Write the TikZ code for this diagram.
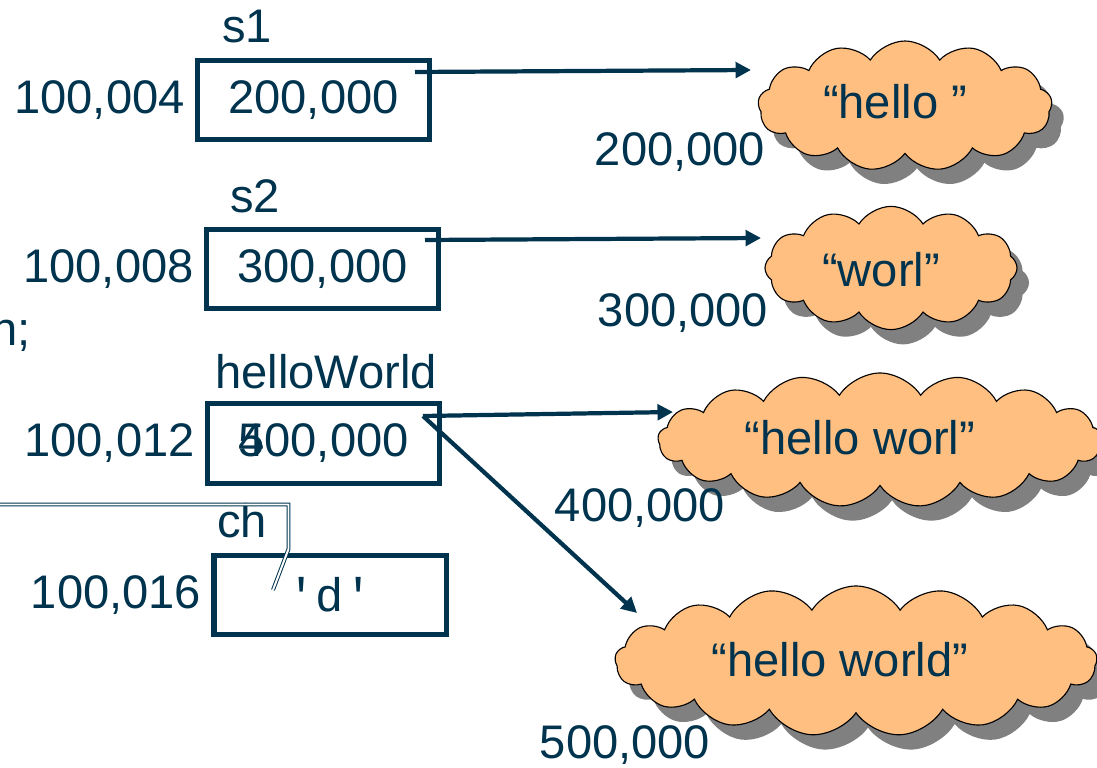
\documentclass[tikz,border=0pt]{standalone}
\usepackage{fontspec}
\setmainfont{Liberation Sans}
\setmonofont{Liberation Mono}
\usetikzlibrary{positioning}
\usetikzlibrary{arrows.meta}
\usetikzlibrary{shapes.symbols}
\usetikzlibrary{shadows}
\definecolor{ink}{HTML}{00334D}
\definecolor{puff}{HTML}{FFBF80}

\begin{document}
\begin{tikzpicture}[x=0.025cm, y=-0.025cm,
        every node/.style={text=ink, font=\fontsize{33.5}{40}\selectfont, inner sep=0pt},
        cell/.style={draw=ink, line width=3.6pt, minimum width=5.8cm, minimum height=1.98cm},
        str/.style={cloud, cloud puffs=#1, cloud puff arc=115, draw=black, line width=0.8pt, fill=puff,
            drop shadow={fill=black!50, opacity=1, shadow xshift=0.3cm, shadow yshift=-0.37cm}},
        ptr/.style={draw=ink, line width=3pt, -{Triangle[length=11pt, width=11pt]}},
        stray/.style={draw=ink, double=white, double distance=1.4pt, line width=0.7pt}]
    \useasboundingbox (0,0) rectangle (1097,768);

    % variables
    \node[cell] (s1) at (313.5,100) {200,000};
    \node[cell] (s2) at (322.5,269) {300,000};
    \node[cell] (hw) at (323.5,443.5) {\rlap{4}500,000};
    \node[cell] (ch) at (330,595) {\ttfamily\textquotesingle d\textquotesingle};

    \node[anchor=base west] (s1_name) at (222,43) {s1};
    \node[anchor=base west] (s2_name) at (230,212) {s2};
    \node[anchor=base west] (hw_name) at (215,388) {helloWorld};
    \node[anchor=base west] (ch_name) at (217,537) {ch};

    \node[left=0.25cm of s1] (s1_addr) {100,004};
    \node[left=0.25cm of s2] (s2_addr) {100,008};
    \node[left=0.25cm of hw] (hw_addr) {100,012};
    \node[left=0.25cm of ch] (ch_addr) {100,016};
    \node[anchor=base east] (rest) at (31,345) {n;};

    \draw[stray] (0,504.5) -- (288.5,504.5) -- (288.5,549) -- (273,590);

    % strings
    \node[str=13, minimum width=7.35cm, minimum height=3.25cm] (c1) at (905,106) {};
    \node[str=12, minimum width=6.3cm, minimum height=3.08cm] (c2) at (891,268) {};
    \node[str=17, minimum width=11.1cm, minimum height=3.35cm] (c3) at (880,440) {};
    \node[str=17, minimum width=12.05cm, minimum height=3.75cm] (c4) at (856,661) {};

    \node (c1_text) at (895,102) {“hello ”};
    \node (c2_text) at (881,270) {“worl”};
    \node (c3_text) at (860,438) {“hello worl”};
    \node (c4_text) at (840,660) {“hello world”};

    \node (c1_addr) at (680,152) {200,000};
    \node (c2_addr) at (683,313) {300,000};
    \node (c3_addr) at (640,508) {400,000};
    \node (c4_addr) at (625,745) {500,000};

    % pointers
    \coordinate (s1_ptr) at (415,72);
    \coordinate (s2_ptr) at (425,240);
    \coordinate (hw_ptr) at (423,416);
    \coordinate (c1_in) at (751,70);
    \coordinate (c2_in) at (761,238);
    \coordinate (c3_in) at (673,412);
    \coordinate (c4_in) at (637,613);

    \draw[ptr] (s1_ptr) -- (c1_in);
    \draw[ptr] (s2_ptr) -- (c2_in);
    \draw[ptr] (hw_ptr) -- (c3_in);
    \draw[ptr] (hw_ptr) -- (c4_in);
\end{tikzpicture}
\end{document}
